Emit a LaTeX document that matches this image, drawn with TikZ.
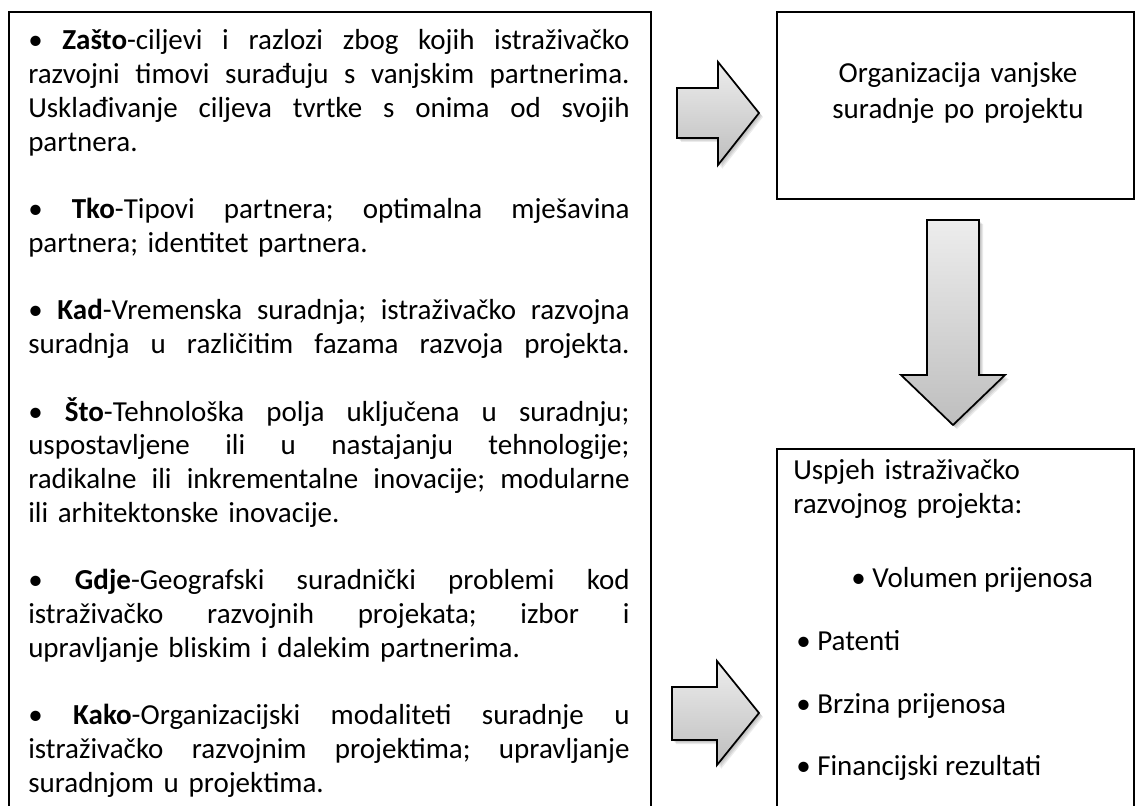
\documentclass[tikz,border=0pt]{standalone}
\usepackage{fontspec}
\setmainfont{Carlito}
\definecolor{arrowtop}{HTML}{EDEDED}
\definecolor{arrowbottom}{HTML}{BEBEBE}
% width of the left text column
\newlength\colw
\setlength\colw{451pt}
% one justified line: every word space stretches equally to fill the column
\newcommand\fullln[1]{\leavevmode\hbox to\colw{\frenchspacing\spaceskip=0.226em plus 1fil\relax #1}\par}
% closing line of a paragraph, natural width
\newcommand\lastln[1]{#1\par}
% empty line between two paragraphs
\newcommand\paragap{\vspace{\baselineskip}}
\begin{document}
\begin{tikzpicture}[x=0.75pt, y=-0.75pt,
  panel/.style={draw=black, line width=1.6pt, rectangle, inner sep=0pt, anchor=north west},
  body/.style={font=\fontsize{21.75pt}{25.3pt}\selectfont\frenchspacing, inner sep=0pt, text=black},
  blockarrow/.style={draw=black, line width=1.3pt, line join=miter, top color=arrowtop, bottom color=arrowbottom},
  arrowshadow/.style={fill=black, draw=none, opacity=0.08},
  toRight/.style={insert path={(677,88) -- (718,88) -- (718,62) -- (759,113) -- (718,165) -- (718,138) -- (677,138) -- cycle}},
  toDown/.style={insert path={(927,220) -- (979,220) -- (979,375) -- (1005,375) -- (953,425) -- (901,375) -- (927,375) -- cycle}},
  toResult/.style={insert path={(672,687) -- (717,687) -- (717,661) -- (759,713) -- (717,765) -- (717,740) -- (672,740) -- cycle}},
]
\useasboundingbox (0,0) rectangle (1135,806);
\clip (0,0) rectangle (1135,806);

% frames (left and lower right run past the bottom edge)
\node[panel, minimum width=481.5pt, minimum height=614.25pt] (reasons) at (8,11) {};
\node[panel, minimum width=267.75pt, minimum height=140.25pt] (organisation) at (776,11) {};
\node[panel, minimum width=267.75pt, minimum height=286.5pt] (success) at (776,448) {};

% soft shadows under the block arrows
\foreach \d in {1,2,3,4} {
  \path[arrowshadow, shift={(\d,\d)}, toRight];
  \path[arrowshadow, shift={(\d,\d)}, toDown];
  \path[arrowshadow, shift={(\d,\d)}, toResult];
}
% block arrows
\path[blockarrow, toRight];
\path[blockarrow, toDown];
\path[blockarrow, toResult];

% left column text
\node[body, text width=\colw, align=left, anchor=base west] (reasonstext) at (28,50) {%
\fullln{• \textbf{Zašto}-ciljevi i razlozi zbog kojih istraživačko}
\fullln{razvojni timovi surađuju s vanjskim partnerima.}
\fullln{Usklađivanje ciljeva tvrtke s onima od svojih}
\lastln{partnera.}
\paragap
\fullln{• \textbf{Tko}-Tipovi partnera; optimalna mješavina}
\lastln{partnera; identitet partnera.}
\paragap
\fullln{• \textbf{Kad}-Vremenska suradnja; istraživačko razvojna}
\fullln{suradnja u različitim fazama razvoja projekta.}
\paragap
\fullln{• \textbf{Što}-Tehnološka polja uključena u suradnju;}
\fullln{uspostavljene ili u nastajanju tehnologije;}
\fullln{radikalne ili inkrementalne inovacije; modularne}
\lastln{ili arhitektonske inovacije.}
\paragap
\fullln{• \textbf{Gdje}-Geografski suradnički problemi kod}
\fullln{istraživačko razvojnih projekata; izbor i}
\lastln{upravljanje bliskim i dalekim partnerima.}
\paragap
\fullln{• \textbf{Kako}-Organizacijski modaliteti suradnje u}
\fullln{istraživačko razvojnim projektima; upravljanje}
\lastln{suradnjom u projektima.}
};

% upper right text
\node[body, font=\fontsize{21.75pt}{27pt}\selectfont, text width=240pt, align=center, anchor=base] (orgtext) at (958,83)
  {Organizacija vanjske\\suradnje po projektu};

% lower right text
\node[body, font=\fontsize{21.75pt}{26pt}\selectfont, text width=250pt, align=left, anchor=base west] (successtext) at (793,479)
  {Uspjeh istraživačko\\razvojnog projekta:};
\node[body, anchor=base west] (volume) at (851,587) {• Volumen prijenosa};
\node[body, anchor=base west] (patents) at (796,650) {• Patenti};
\node[body, anchor=base west] (speed) at (796,713) {• Brzina prijenosa};
\node[body, anchor=base west] (finance) at (796,775) {• Financijski rezultati};
\end{tikzpicture}
\end{document}
